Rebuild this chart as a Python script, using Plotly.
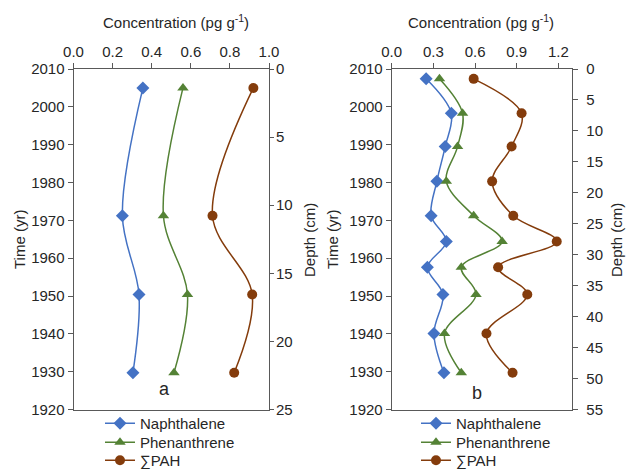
import plotly.graph_objects as go

# ---- data ----
names = ["Naphthalene", "Phenanthrene", "∑PAH"]
colors = ["#4472C4", "#548235", "#843C0C"]
symbols = ["diamond", "triangle-up", "circle"]

years_a = [2005.0, 1971.2, 1950.4, 1929.7]
naph_a = [0.355, 0.250, 0.335, 0.304]
phen_a = [0.560, 0.460, 0.583, 0.514]
pah_a = [0.920, 0.711, 0.914, 0.822]

years_b = [2007.4, 1998.3, 1989.5, 1980.3, 1971.2, 1964.4, 1957.6, 1950.4, 1940.1, 1929.7]
naph_b = [0.248, 0.429, 0.385, 0.325, 0.284, 0.393, 0.257, 0.369, 0.304, 0.376]
phen_b = [0.344, 0.510, 0.474, 0.393, 0.590, 0.795, 0.501, 0.607, 0.380, 0.501]
pah_b = [0.590, 0.935, 0.863, 0.723, 0.875, 1.188, 0.766, 0.976, 0.682, 0.870]

W, H = 633, 469
FONT = "Liberation Sans, Arial, sans-serif"
FS = 15
TXT = "#262626"
AX = "#595959"

def px(x):
    return x / W

def py(y):
    return 1 - y / H

fig = go.Figure()

series_a = [naph_a, phen_a, pah_a]
series_b = [naph_b, phen_b, pah_b]
legend_y = [423.5, 442.5, 460.5]

for i in range(3):
    fig.add_trace(go.Scatter(
        x=series_a[i], y=years_a, mode="lines+markers", name=names[i],
        line=dict(color=colors[i], width=1.5, shape="spline", smoothing=1.0),
        marker=dict(symbol=symbols[i], size=10, color=colors[i]),
        xaxis="x", yaxis="y", legend="legend" if i == 0 else f"legend{2*i+1}"))
for i in range(3):
    fig.add_trace(go.Scatter(
        x=series_b[i], y=years_b, mode="lines+markers", name=names[i],
        line=dict(color=colors[i], width=1.5, shape="spline", smoothing=1.0),
        marker=dict(symbol=symbols[i], size=10, color=colors[i]),
        xaxis="x2", yaxis="y3", legend=f"legend{2*i+2}"))
# empty traces that bring up the depth axes
fig.add_trace(go.Scatter(x=[None], y=[None], xaxis="x", yaxis="y2", showlegend=False))
fig.add_trace(go.Scatter(x=[None], y=[None], xaxis="x2", yaxis="y4", showlegend=False))

xdomA = [px(73.5), px(269)]
xdomB = [px(391.7), px(572.3)]
ydom = [py(409.5), py(69)]

def ax(**kw):
    d = dict(showline=True, linecolor=AX, linewidth=1, ticks="outside",
             ticklen=5, tickcolor=AX, showgrid=False, zeroline=False,
             tickfont=dict(family=FONT, size=FS, color=TXT))
    d.update(kw)
    return d

layout = dict(
    width=W, height=H,
    margin=dict(l=0, r=0, t=0, b=0, autoexpand=False),
    paper_bgcolor="white", plot_bgcolor="white",
    xaxis=ax(domain=xdomA, range=[0, 1.0], dtick=0.2, tickformat=".1f",
             side="top", anchor="y", mirror=True),
    yaxis=ax(domain=ydom, range=[1920, 2010], dtick=10, anchor="x"),
    yaxis2=ax(range=[25, 0], dtick=5, overlaying="y", side="right", anchor="x",
              ticklen=4, ticklabelstandoff=-1),
    xaxis2=ax(domain=xdomB, range=[0, 1.3], tick0=0, dtick=0.3, tickformat=".1f",
              side="top", anchor="y3", mirror=True),
    yaxis3=ax(domain=ydom, range=[1920, 2010], dtick=10, anchor="x2"),
    yaxis4=ax(range=[55, 0], dtick=5, overlaying="y3", side="right", anchor="x2",
              ticklabelstandoff=5),
    showlegend=True,
)
for i in range(3):
    for j, lx in enumerate([100, 416]):
        n = 2 * i + 1 + j
        key = "legend" if n == 1 else f"legend{n}"
        layout[key] = dict(x=px(lx), y=py(legend_y[i]), xanchor="left", yanchor="middle",
                           font=dict(family=FONT, size=FS, color=TXT),
                           bgcolor="rgba(0,0,0,0)", itemwidth=30)
fig.update_layout(**layout)

def note(x, y, text, size=FS, angle=0):
    return dict(x=px(x), y=py(y), xref="paper", yref="paper", showarrow=False,
                xanchor="center", yanchor="middle", text=text, textangle=angle,
                font=dict(family=FONT, size=size, color=TXT))

ann = []
for cx in [176, 481]:
    ann.append(note(cx, 21, "Concentration (pg g<sup>-1</sup>)"))
for cx in [19, 332]:
    ann.append(note(cx, 240, "Time (yr)", angle=-90))
for cx in [309, 616]:
    ann.append(note(cx, 240, "Depth (cm)", angle=-90))
ann.append(note(164.5, 389, "a", size=18))
ann.append(note(477, 393, "b", size=18))
fig.update_layout(annotations=ann)

fig.write_html("out.html", config={"displayModeBar": False},
               post_script="document.body.style.margin='0';")
